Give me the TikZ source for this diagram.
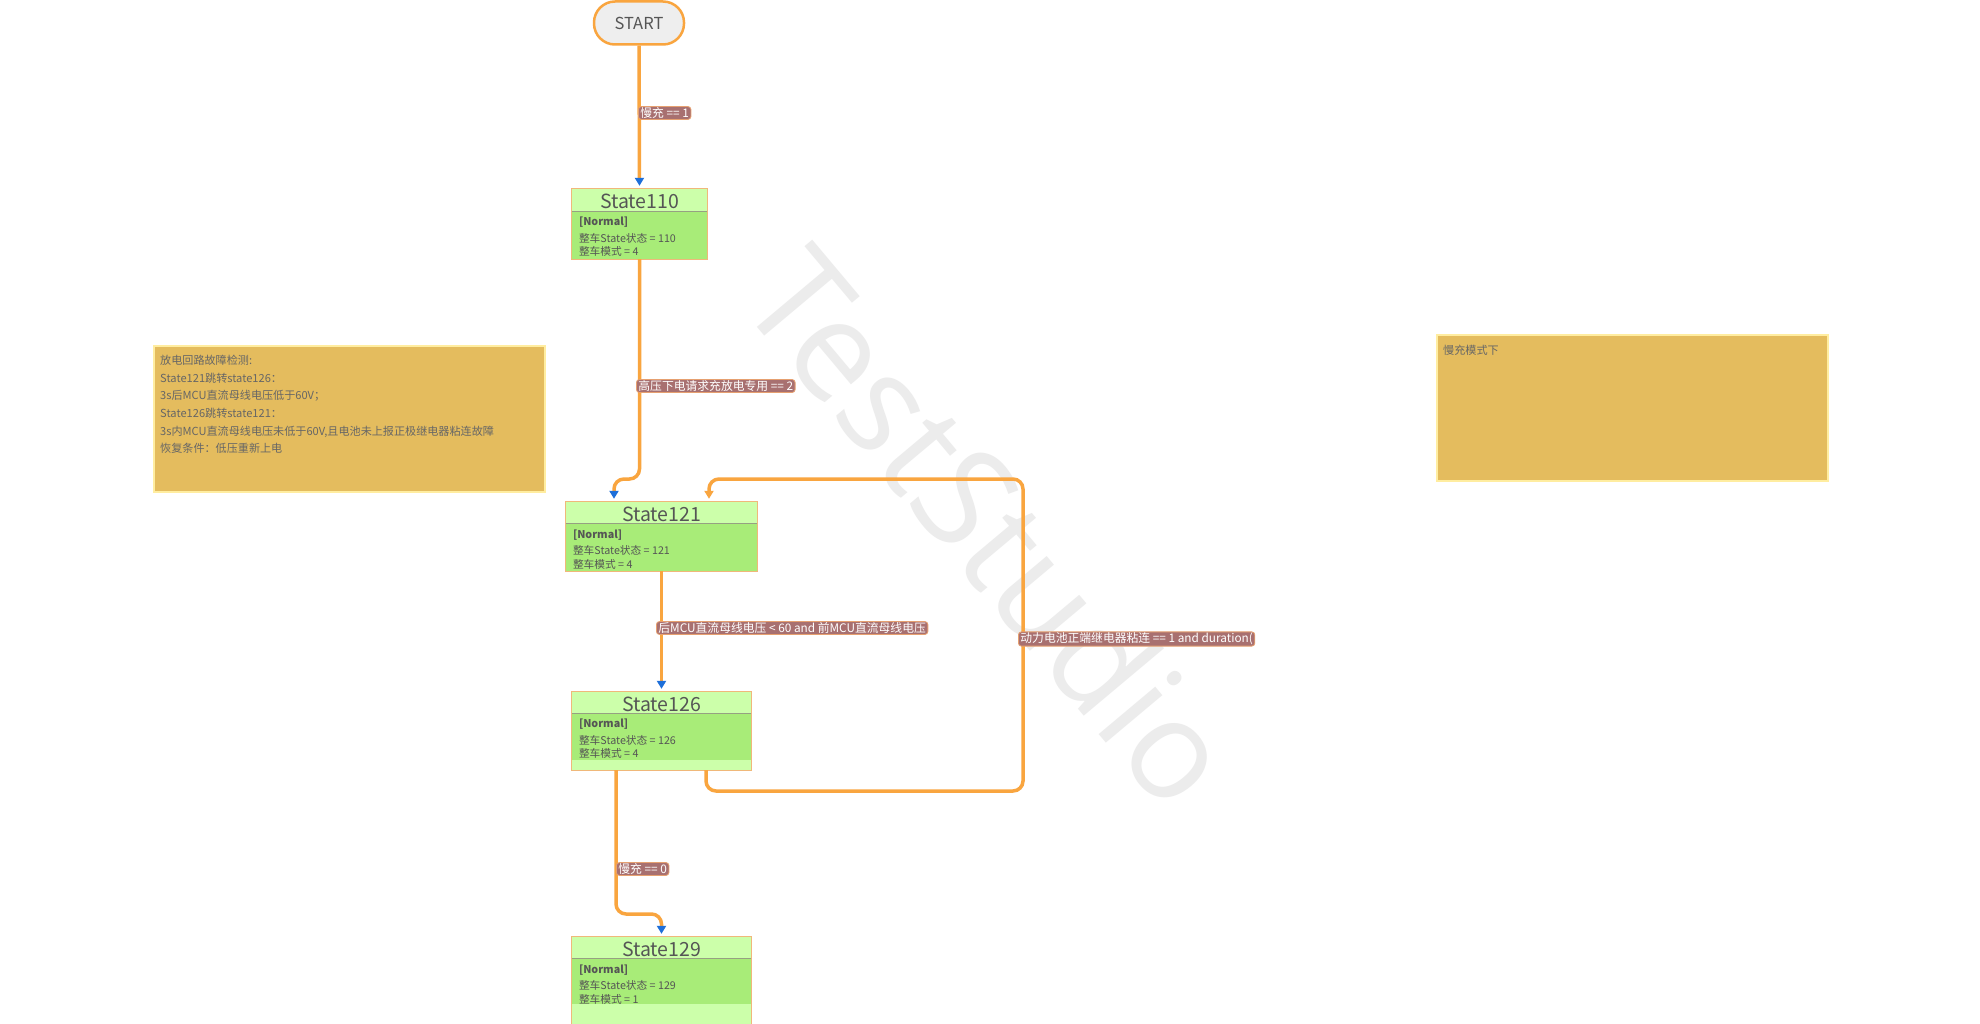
\documentclass[tikz,border=0pt]{standalone}
\usepackage{fontspec}
\setmainfont{Noto Sans CJK SC}
\newfontfamily\wmfont{Open Sans}
\usetikzlibrary{arrows.meta,calc}
\definecolor{edgeorange}{RGB}{249,165,63}
\definecolor{arrowblue}{RGB}{30,111,217}
\definecolor{stborder}{RGB}{240,184,122}
\definecolor{titlefill}{RGB}{204,255,170}
\definecolor{bodyfill}{RGB}{168,236,120}
\definecolor{txtgray}{RGB}{85,85,85}
\definecolor{lblfill}{RGB}{168,112,112}
\definecolor{lblborder}{RGB}{230,160,112}
\definecolor{notefill}{RGB}{228,188,94}
\definecolor{noteborder}{RGB}{255,237,160}
\definecolor{startfill}{RGB}{238,238,238}
\definecolor{sepgray}{RGB}{150,160,130}
\definecolor{wmgray}{RGB}{236,236,236}
\begin{document}
\begin{tikzpicture}[x=1pt,y=-1pt,
  statebox/.style={draw=none,fill=titlefill,rectangle,inner sep=0pt},
  stateborder/.style={draw=stborder,line width=1.2pt},
  sepline/.style={draw=sepgray,line width=0.8pt},
  titletext/.style={text=txtgray,font=\fontsize{19.5}{21}\selectfont,inner sep=0pt},
  bodytext/.style={text=txtgray,font=\fontsize{10.7}{13.5}\selectfont,align=left,inner sep=0pt},
  edge/.style={draw=edgeorange,line width=3.5pt,rounded corners=10pt},
  bluetip/.style={-{Triangle[width=9pt,length=8pt,color=arrowblue]},shorten >=3pt},
  orangetip/.style={-{Triangle[width=9pt,length=8pt,color=edgeorange]},shorten >=3pt},
  lbl/.style={fill=lblfill,draw=lblborder,line width=0.8pt,rounded corners=3pt,text=white,
    font=\fontsize{11.8}{13}\selectfont,inner xsep=2pt,inner ysep=1pt,anchor=west},
  notebox/.style={fill=notefill,draw=noteborder,line width=2pt,rectangle,inner sep=0pt,anchor=north west},
  notetext/.style={text=txtgray!90,font=\fontsize{11.1}{17.6}\selectfont,align=left,inner sep=0pt,anchor=north west}
]
\useasboundingbox (0,0) rectangle (1980,1024);
\clip (0,0) rectangle (1980,1024);
\fill[white] (0,0) rectangle (1980,1024);

% watermark
\node[rotate=-50,text=wmgray,font=\wmfont\fontsize{138}{140}\selectfont] (wm) at (992,526) {TestStudio};

% notes
\node[notebox,minimum width=391pt,minimum height=146pt] (n1) at (153,345) {};
\node[notetext] (n1t) at (160,355) {放电回路故障检测:\\State121跳转state126：\\3s后MCU直流母线电压低于60V；\\State126跳转state121：\\3s内MCU直流母线电压未低于60V,且电池未上报正极继电器粘连故障\\恢复条件：低压重新上电};
\node[notebox,minimum width=391pt,minimum height=146pt] (n2) at (1436,334) {};
\node[notetext] (n2t) at (1443,345) {慢充模式下};

% START
\node[draw=edgeorange,line width=2.5pt,fill=startfill,rounded corners=21pt,minimum width=90pt,minimum height=43pt,
  text=txtgray,font=\fontsize{16.5}{18}\selectfont] (start) at (639,23) {START};

% states
\node[statebox,minimum width=135pt,minimum height=70pt] (s110) at (639.5,224) {};
\fill[bodyfill] ($(s110.north west)+(0,23)$) rectangle (s110.south east);
\draw[sepline] ($(s110.north west)+(0,23)$) -- ($(s110.north east)+(0,23)$);
\draw[stateborder] (s110.north west) rectangle (s110.south east);
\node[titletext] (s110t) at ($(s110.north)+(0,13)$) {State110};
\node[bodytext,anchor=north west] (s110b) at ($(s110.north west)+(7,28)$) {\textbf{[Normal]}\\[3pt]整车State状态 = 110\\整车模式 = 4};

\node[statebox,minimum width=191pt,minimum height=69pt] (s121) at (661.5,536.5) {};
\fill[bodyfill] ($(s121.north west)+(0,22)$) rectangle (s121.south east);
\draw[sepline] ($(s121.north west)+(0,22)$) -- ($(s121.north east)+(0,22)$);
\draw[stateborder] (s121.north west) rectangle (s121.south east);
\node[titletext] (s121t) at ($(s121.north)+(0,12.5)$) {State121};
\node[bodytext,anchor=north west] (s121b) at ($(s121.north west)+(7,27.5)$) {\textbf{[Normal]}\\[3pt]整车State状态 = 121\\整车模式 = 4};

\node[statebox,minimum width=179pt,minimum height=78pt] (s126) at (661.5,731) {};
\fill[bodyfill] ($(s126.north west)+(0,22)$) rectangle ($(s126.south east)+(0,-10)$);
\draw[sepline] ($(s126.north west)+(0,22)$) -- ($(s126.north east)+(0,22)$);
\draw[stateborder] (s126.north west) rectangle (s126.south east);
\node[titletext] (s126t) at ($(s126.north)+(0,12.5)$) {State126};
\node[bodytext,anchor=north west] (s126b) at ($(s126.north west)+(7,27)$) {\textbf{[Normal]}\\[3pt]整车State状态 = 126\\整车模式 = 4};

\node[statebox,minimum width=179pt,minimum height=110pt] (s129) at (661.5,992) {};
\fill[bodyfill] ($(s129.north west)+(0,22)$) rectangle ($(s129.north east)+(0,67)$);
\draw[sepline] ($(s129.north west)+(0,22)$) -- ($(s129.north east)+(0,22)$);
\draw[stateborder] (s129.north west) rectangle (s129.south east);
\node[titletext] (s129t) at ($(s129.north)+(0,12.5)$) {State129};
\node[bodytext,anchor=north west] (s129b) at ($(s129.north west)+(7,27.5)$) {\textbf{[Normal]}\\[3pt]整车State状态 = 129\\整车模式 = 1};

% helper coordinates
\coordinate (ax) at (614,0);
\coordinate (ty) at (0,479);
\coordinate (lx) at (706,0);
\coordinate (rx) at (1023,0);
\coordinate (tx) at (709,0);
\coordinate (by) at (0,791);
\coordinate (bx) at (616,0);
\coordinate (ey) at (0,914);

% edges
\draw[edge,bluetip] (start.south) -- (s110.north);
\draw[edge,bluetip] (s110.south) -- (s110.south |- ty) -- (ax |- ty) -- (s121.north -| ax);
\draw[edge,bluetip] (s121.south) -- (s126.north);
\draw[edge,orangetip] (s126.south -| lx) -- (lx |- by) -- (rx |- by) -- (rx |- ty) -- (tx |- ty) -- (s121.north -| tx);
\draw[edge,bluetip] (s126.south -| bx) -- (bx |- ey) -- (s129.north |- ey) -- (s129.north);

% labels
\node[lbl] (l1) at (638,113) {慢充 == 1};
\node[lbl] (l2) at (636,386) {高压下电请求充放电专用 == 2};
\node[lbl] (l3) at (656,628) {后MCU直流母线电压 < 60 and 前MCU直流母线电压};
\node[lbl] (l4) at (1018,639) {动力电池正端继电器粘连 == 1 and duration(};
\node[lbl] (l5) at (616,869) {慢充 == 0};
\end{tikzpicture}
\end{document}
